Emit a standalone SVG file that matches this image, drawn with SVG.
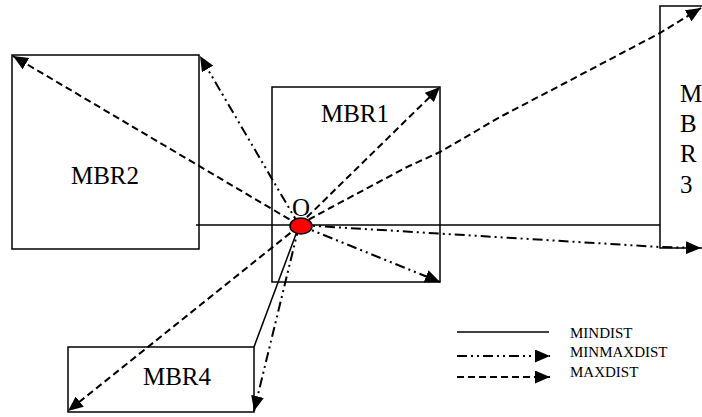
<svg xmlns="http://www.w3.org/2000/svg" width="702" height="417" viewBox="0 0 702 417">
  <style>
    .box { fill: #fff; stroke: #000; stroke-width: 1.5; }
    .lbl { font-family: "Liberation Serif", "Times New Roman", serif; font-size: 25px; fill: #000; }
    .leg { font-family: "Liberation Serif", "Times New Roman", serif; font-size: 15px; fill: #000; }
    .ln { fill: none; stroke: #000; stroke-width: 2; }
    .min { stroke-width: 1.5; }
    .maxd { stroke-dasharray: 7 4; }
    .mmd { stroke-dasharray: 10 4 2 4 2 4; }
  </style>
  <defs>
    <marker id="arrow" markerUnits="userSpaceOnUse" markerWidth="15" markerHeight="13" refX="15" refY="6.5" orient="auto">
      <path d="M0,0 L15,6.5 L0,13 z" fill="#000"/>
    </marker>
  </defs>

  <rect width="702" height="417" fill="#fff"/>

  <g id="mbr2">
    <rect class="box" x="12" y="55" width="187" height="194"/>
    <text class="lbl" x="105" y="184" text-anchor="middle">MBR2</text>
  </g>
  <g id="mbr1">
    <rect class="box" x="272" y="87" width="168" height="195"/>
    <text class="lbl" x="355" y="122" text-anchor="middle">MBR1</text>
  </g>
  <g id="mbr3">
    <rect class="box" x="660" y="6" width="60" height="242"/>
    <text class="lbl" x="680" y="102" font-size="24">M</text>
    <text class="lbl" x="680" y="132">B</text>
    <text class="lbl" x="680" y="162">R</text>
    <text class="lbl" x="680" y="193">3</text>
  </g>
  <g id="mbr4">
    <rect class="box" x="68" y="347" width="186" height="65"/>
    <text class="lbl" x="177" y="385" text-anchor="middle" font-size="26">MBR4</text>
  </g>

  <g id="connectors">
    <!-- MINDIST -->
    <line class="ln min" x1="196" y1="225" x2="660" y2="225"/>
    <line class="ln min" x1="299" y1="226" x2="254" y2="347"/>
    <!-- MINMAXDIST -->
    <line class="ln mmd" x1="299" y1="225" x2="200" y2="56" marker-end="url(#arrow)"/>
    <line class="ln mmd" x1="299" y1="225" x2="440" y2="282" marker-end="url(#arrow)"/>
    <polyline class="ln mmd" points="299,225 660,247 701,248" marker-end="url(#arrow)"/>
    <line class="ln mmd" x1="299" y1="226" x2="254" y2="411" marker-end="url(#arrow)"/>
    <!-- MAXDIST -->
    <line class="ln maxd" x1="299" y1="225" x2="13" y2="56" marker-end="url(#arrow)"/>
    <line class="ln maxd" x1="299" y1="225" x2="440" y2="87" marker-end="url(#arrow)"/>
    <polyline class="ln maxd" points="299,225 330,208 407,167 440,152 500,117 567,82 660,33 701,8" marker-end="url(#arrow)"/>
    <line class="ln maxd" x1="299" y1="226" x2="68" y2="411" marker-end="url(#arrow)"/>
  </g>

  <g id="o">
    <ellipse cx="301" cy="226" rx="11" ry="8" fill="#f00" stroke="#000" stroke-width="1.5"/>
    <text class="lbl" x="301" y="216" text-anchor="middle" font-size="24">O</text>
  </g>

  <g id="legend">
    <line class="ln min" x1="457" y1="332" x2="549" y2="332"/>
    <text class="leg" x="570" y="338">MINDIST</text>
    <line class="ln mmd" x1="457" y1="356" x2="550" y2="356" marker-end="url(#arrow)"/>
    <text class="leg" x="570" y="357">MINMAXDIST</text>
    <line class="ln maxd" x1="457" y1="377" x2="550" y2="377" marker-end="url(#arrow)"/>
    <text class="leg" x="570" y="377">MAXDIST</text>
  </g>
</svg>
